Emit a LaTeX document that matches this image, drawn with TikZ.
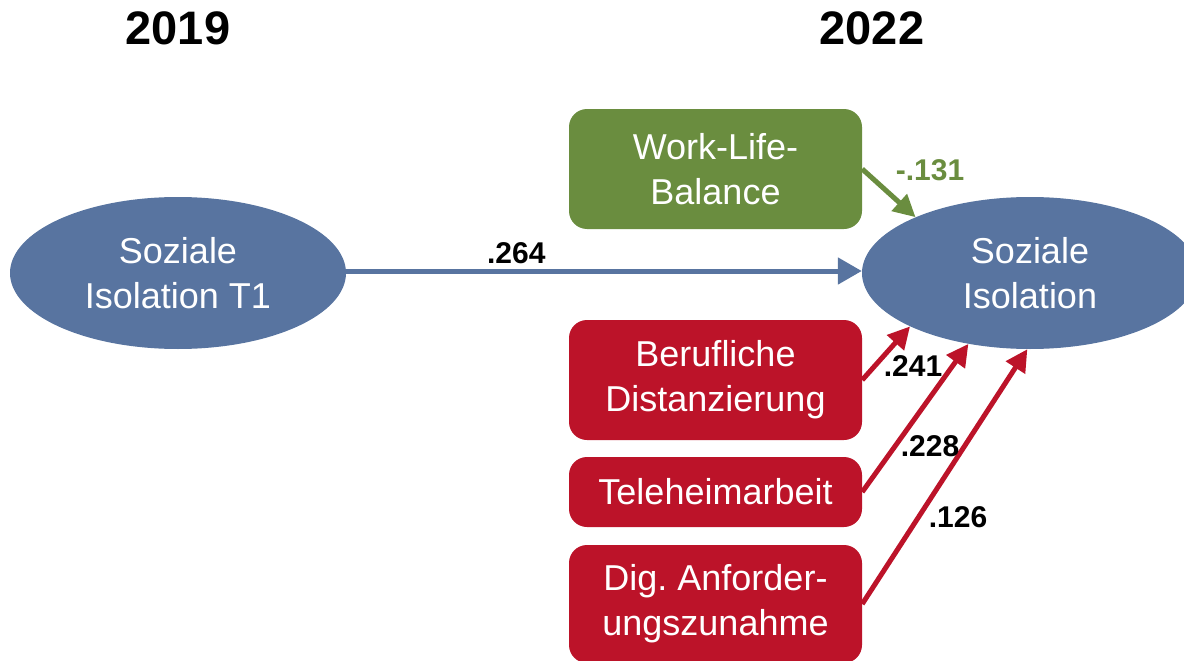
\documentclass[tikz,border=0pt]{standalone}
\usepackage{fontspec}
\setmainfont{Liberation Sans}
\usetikzlibrary{shapes.geometric,arrows.meta}
\definecolor{cblue}{HTML}{5874A0}
\definecolor{cred}{HTML}{BC1329}
\definecolor{cgreen}{HTML}{6A8D3F}
\frenchspacing
\tikzset{
  ell/.style={ellipse, fill=cblue, text=white, minimum width=336pt, minimum height=152pt, inner sep=0pt, align=center, font=\fontsize{36}{45}\selectfont},
  rbox/.style={rounded corners=18pt, text=white, minimum width=293pt, inner sep=0pt, align=center, font=\fontsize{36}{45}\selectfont},
  lbl/.style={font=\bfseries\fontsize{30}{34}\selectfont},
  yr/.style={font=\bfseries\fontsize{47}{50}\selectfont},
  arr/.style={line width=5pt, -{Triangle[length=24pt,width=26pt]}},
  sarr/.style={line width=5pt, -{Triangle[length=22pt,width=22pt]}},
}
\begin{document}
\begin{tikzpicture}[x=1pt,y=-1pt]
\useasboundingbox (0,0) rectangle (1184,661);
\node[yr] (y1) at (178,28) {2019};
\node[yr] (y2) at (872,28) {2022};
\node[ell] (iso1) at (178,273) {Soziale\\Isolation T1};
\node[ell] (iso) at (1030,273) {Soziale\\Isolation};
\node[rbox, fill=cgreen, minimum height=120pt] (wlb) at (715.5,169) {Work-Life-\\Balance};
\node[rbox, fill=cred, minimum height=120pt] (ber) at (715.5,380) {Berufliche\\Distanzierung};
\node[rbox, fill=cred, minimum height=70pt] (tel) at (715.5,492) {Teleheimarbeit};
\node[rbox, fill=cred, minimum height=118pt] (dig) at (715.5,604) {Dig.\ Anforder-\\ungszunahme};
\draw[arr, cblue] (iso1.east |- 0,271) coordinate (h1) -- (iso.west |- 0,271) coordinate (h2)
  node[lbl, text=black, pos=0.33, above=1pt] (l1) {.264};
\draw[sarr, cgreen] (wlb.east) -- (iso.154);
\node[lbl, text=cgreen] (l2) at (930,170) {-.131};
\draw[sarr, cred] (ber.east) -- (iso.204);
\draw[sarr, cred] (tel.east) -- (iso.229);
\draw[sarr, cred] (dig.east) -- (iso.268);
\node[lbl] (l3) at (913,366) {.241};
\node[lbl] (l4) at (930,446) {.228};
\node[lbl] (l5) at (958,517) {.126};
\end{tikzpicture}
\end{document}
